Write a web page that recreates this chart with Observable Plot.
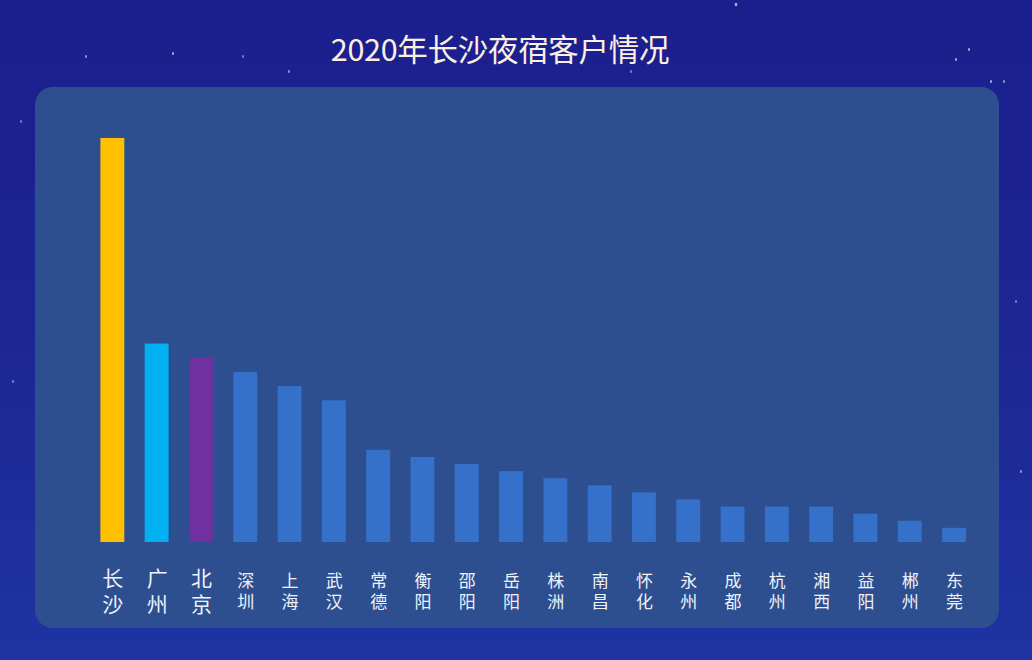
<!DOCTYPE html>
<html>
<head>
<meta charset="utf-8">
<script src="https://cdn.jsdelivr.net/npm/d3@7"></script>
<script src="https://cdn.jsdelivr.net/npm/@observablehq/plot@0.6"></script>
<style>
  html, body { margin: 0; padding: 0; }
  body {
    width: 1032px; height: 660px; overflow: hidden; position: relative;
    background: linear-gradient(180deg, #1b1f8e 0%, #1c2592 45%, #1f33a2 100%);
    font-family: "Noto Sans CJK SC", "Noto Sans", sans-serif;
  }
  #stars {
    position: absolute; left: 0; top: 0; width: 2px; height: 3px; border-radius: 1px;
    background: transparent;
    box-shadow:
      735px 3px 1px rgba(255,255,255,0.9), 172px 52px 0 rgba(255,255,255,0.6),
      85px 55px 0 rgba(255,255,255,0.5), 288px 70px 0 rgba(255,255,255,0.5),
      968px 48px 0 rgba(255,255,255,0.6), 955px 58px 0 rgba(255,255,255,0.6),
      990px 80px 0 rgba(255,255,255,0.6), 1003px 80px 0 rgba(255,255,255,0.5),
      242px 55px 0 rgba(255,255,255,0.4), 630px 70px 0 rgba(255,255,255,0.4),
      20px 120px 0 rgba(255,255,255,0.4), 1015px 300px 0 rgba(255,255,255,0.4),
      12px 380px 0 rgba(255,255,255,0.4), 1020px 470px 0 rgba(255,255,255,0.5);
  }
  #panel {
    position: absolute; left: 35px; top: 87px; width: 964px; height: 541px;
    border-radius: 18px; background: #2d4f8f;
  }
  #title {
    position: absolute; left: 0; width: 1000px; top: 26px; text-align: center;
    font-size: 30.5px; line-height: 44px; color: #fbefe2; letter-spacing: -0.3px;
  }
  #chart { position: absolute; left: 0; top: 0; }
</style>
</head>
<body>
<div id="stars"></div>
<div id="panel"></div>
<div id="title">2020年长沙夜宿客户情况</div>
<div id="chart"></div>
<script>
const cities = ["长沙","广州","北京","深圳","上海","武汉","常德","衡阳","邵阳","岳阳",
                "株洲","南昌","怀化","永州","成都","杭州","湘西","益阳","郴州","东莞"];
const values = [5700, 2800, 2600, 2400, 2200, 2000, 1300, 1200, 1100, 1000,
                900, 800, 700, 600, 500, 500, 500, 400, 300, 200];
const topCities = ["长沙","广州","北京"];
const otherCities = cities.filter(c => !topCities.includes(c));

const highlight = {"长沙": "#ffc000", "广州": "#00b0f0", "北京": "#7030a0"};
const defaultBar = "#3570cb";
const labelFont = "'Liberation Sans', 'Noto Sans CJK SC', sans-serif";

const data = cities.map((city, i) => ({city, value: values[i]}));
const label = c => c.split("").join("\n");

const chart = Plot.plot({
  width: 1032,
  height: 660,
  marginTop: 138,
  marginBottom: 118,
  marginLeft: 80,
  marginRight: 45.6,
  style: {background: "transparent", overflow: "visible"},
  x: {domain: cities, padding: 0.46, align: 0.5, round: false, axis: null, label: null},
  y: {domain: [0, 5700], axis: null},
  color: {type: "identity"},
  marks: [
    Plot.barY(data, {x: "city", y: "value", fill: d => highlight[d.city] ?? defaultBar}),
    Plot.axisX(topCities, {
      tickSize: 0, tickPadding: 25, fontSize: 21, lineHeight: 1.25,
      tickFormat: label, fill: "#eef2fa", label: null,
      fontFamily: labelFont
    }),
    Plot.axisX(otherCities, {
      tickSize: 0, tickPadding: 29, fontSize: 17, lineHeight: 1.25,
      tickFormat: label, fill: "#eef2fa", label: null,
      fontFamily: labelFont
    })
  ]
});
document.getElementById("chart").append(chart);
</script>
</body>
</html>
